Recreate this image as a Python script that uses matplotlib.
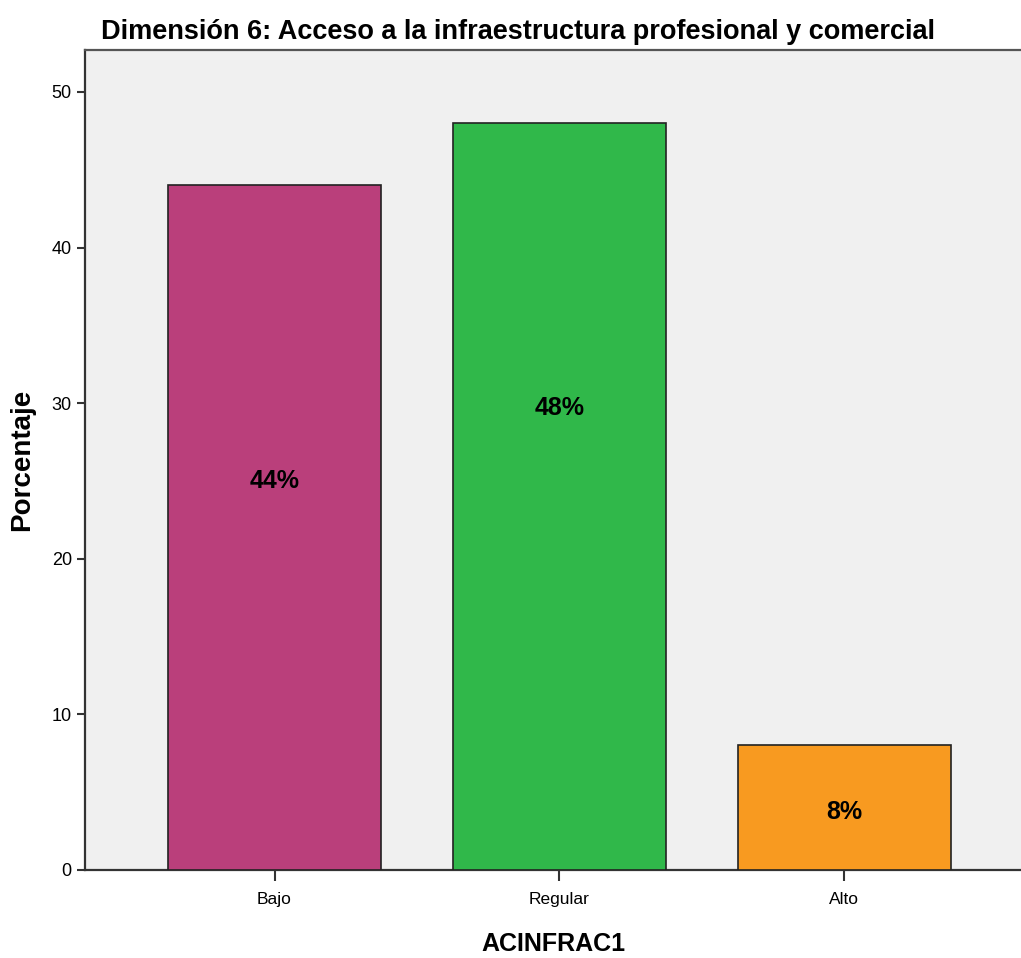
import matplotlib
matplotlib.use("Agg")
import matplotlib.pyplot as plt

categories = ["Bajo", "Regular", "Alto"]
percentages = [44, 48, 8]
bar_labels = ["44%", "48%", "8%"]
colors = ["#BA3F7B", "#30B84A", "#F89A20"]
yticks = [0, 10, 20, 30, 40, 50]

# vertical placement of the percentage labels inside each bar (data units)
label_y = [25.0, 29.7, 3.7]

plt.rcParams["font.family"] = ["Liberation Sans", "DejaVu Sans"]

fig = plt.figure(figsize=(10.21, 9.58), dpi=100)
ax = fig.add_axes([0.0833, 0.0919, 0.9167, 0.856])
ax.set_facecolor("#F0F0F0")

x = list(range(len(categories)))
ax.bar(x, percentages, width=0.747, color=colors, edgecolor="#222222", linewidth=1.2, zorder=3)
for xi, ly, lab in zip(x, label_y, bar_labels):
    ax.text(xi, ly, lab, ha="center", va="center", fontsize=18,
            fontweight="bold", color="black", zorder=4)

ax.set_xlim(-0.665, 2.62)
ax.set_ylim(0, 52.7)
ax.set_xticks(x)
ax.set_xticklabels(categories, fontsize=12.5)
ax.set_yticks(yticks)
ax.set_yticklabels([str(t) for t in yticks], fontsize=13)
ax.tick_params(axis="both", direction="out", length=6, width=1.5, color="#333333")
ax.tick_params(axis="x", pad=8, length=8)

for side in ["left", "bottom"]:
    ax.spines[side].set_linewidth(1.6)
    ax.spines[side].set_color("#333333")
ax.spines["top"].set_linewidth(1.6)
ax.spines["top"].set_color("#555555")
ax.spines["right"].set_visible(False)

ax.set_xlabel("ACINFRAC1", fontsize=18, fontweight="bold", labelpad=18)
ax.set_ylabel("Porcentaje", fontsize=20, fontweight="bold", labelpad=12)
fig.text(0.099, 0.967, "Dimensión 6: Acceso a la infraestructura profesional y comercial",
         fontsize=19.5, fontweight="bold", ha="left", va="center")

fig.savefig("out.png", dpi=100, facecolor="white")
